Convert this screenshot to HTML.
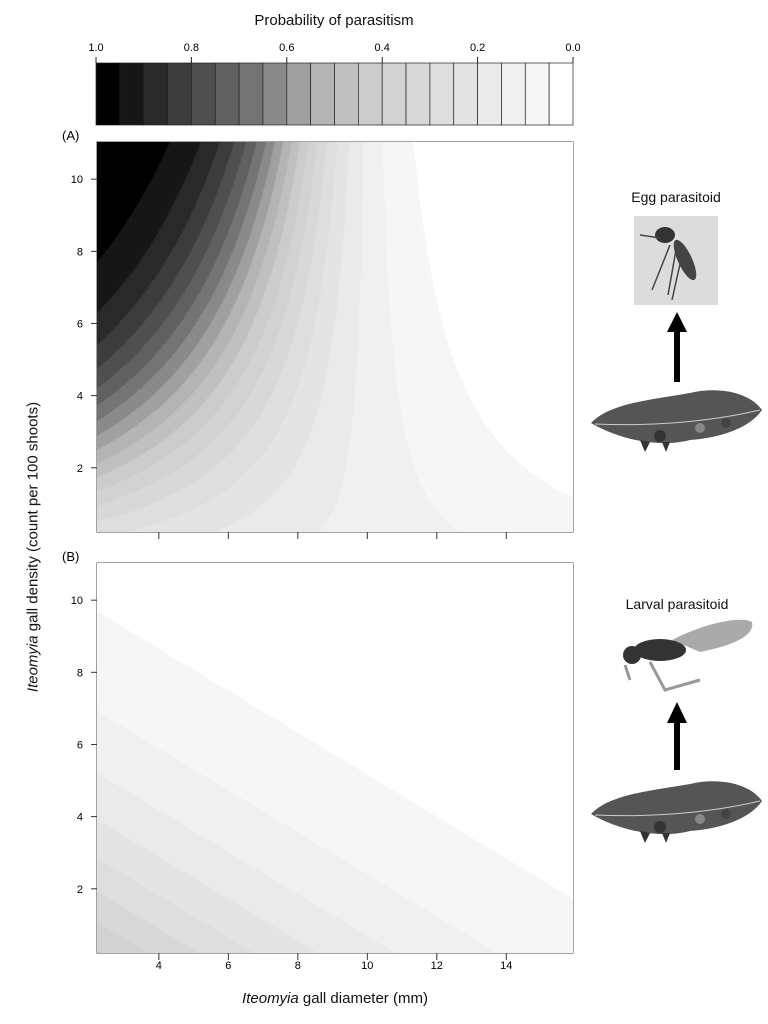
<!DOCTYPE html>
<html><head><meta charset="utf-8"><style>
body{margin:0;background:#fff;width:768px;height:1024px;position:relative;overflow:hidden;font-family:"Liberation Sans",sans-serif;color:#111}
.abs{position:absolute}
.tl{font-size:11px;position:absolute}
canvas{position:absolute}
</style></head><body>
<div class="abs" style="left:0;width:668px;text-align:center;top:12px;font-size:15px">Probability of parasitism</div>
<svg class="abs" style="left:0;top:0" width="768" height="1024" id="svg"></svg>
<canvas id="cA" width="476" height="390" style="left:97px;top:142px"></canvas>
<canvas id="cB" width="476" height="390" style="left:97px;top:563px"></canvas>
<div class="abs" style="left:33px;top:547px;transform:translate(-50%,-50%) rotate(-90deg);white-space:nowrap;font-size:15px"><i>Iteomyia</i> gall density (count per 100 shoots)</div>
<div class="abs" style="left:335px;top:990px;transform:translateX(-50%);white-space:nowrap;font-size:15px"><i>Iteomyia</i> gall diameter (mm)</div>
<div class="abs" style="left:676px;top:189px;transform:translateX(-50%);white-space:nowrap;font-size:14px">Egg parasitoid</div>
<div class="abs" style="left:677px;top:596px;transform:translateX(-50%);white-space:nowrap;font-size:14px">Larval parasitoid</div>
<script>
// Panel model coefficients (logit p = a + b*diameter + c*density + e*diameter*density)
const coefA = [-0.894, -0.10, 0.676, -0.067];
const coefB = [0.02, -0.157, -0.27, 0];
const xTicks = [4, 6, 8, 10, 12, 14];
const yTicks = [2, 4, 6, 8, 10];
const barTicks = [1.0, 0.8, 0.6, 0.4, 0.2, 0.0];
const greys = [0,22,41,60,79,96,116,138,160,180,192,204,210,216,222,228,234,240,246,255];
const X0=97,X1=573,DMIN=2.22,DMAX=15.92,GMIN=0.22,GMAX=11.03;
const xs=d=>X0+(d-DMIN)/(DMAX-DMIN)*(X1-X0);
const ysA=g=>532-(g-GMIN)/(GMAX-GMIN)*390;
const ysB=g=>953-(g-GMIN)/(GMAX-GMIN)*390;
function prob(c,d,g){const l=c[0]+c[1]*d+c[2]*g+c[3]*d*g;return 1/(1+Math.exp(-l));}
function draw(id,c){
  const cv=document.getElementById(id),ctx=cv.getContext('2d');
  const im=ctx.createImageData(476,390);
  for(let j=0;j<390;j++)for(let i=0;i<476;i++){
    const d=DMIN+(i+0.5)/476*(DMAX-DMIN),g=GMAX-(j+0.5)/390*(GMAX-GMIN);
    const p=prob(c,d,g);let k=Math.min(19,Math.floor((1-p)*20));
    const v=greys[k],o=(j*476+i)*4;im.data[o]=im.data[o+1]=im.data[o+2]=v;im.data[o+3]=255;}
  ctx.putImageData(im,0,0);
}
draw('cA',coefA);draw('cB',coefB);
const svg=document.getElementById('svg');const NS='http://www.w3.org/2000/svg';
function el(t,a,p){const e=document.createElementNS(NS,t);for(const k in a)e.setAttribute(k,a[k]);(p||svg).appendChild(e);return e;}
// colorbar
for(let k=0;k<20;k++){
  const r=el('rect',{x:96+k*477/20,y:63,width:477/20,height:62,fill:`rgb(${greys[k]},${greys[k]},${greys[k]})`,stroke:'#222','stroke-width':0.7});
  
  
}
barTicks.forEach(v=>{const x=96+(1-v)*477;
  el('line',{x1:x,x2:x,y1:57,y2:63,stroke:'#222'});
  const t=el('text',{x:x,y:51,'font-size':11,'text-anchor':'middle','font-family':'Liberation Sans'});t.textContent=v.toFixed(1);
  
  
});
// panel frames and axes
[['A',142,ysA],['B',563,ysB]].forEach(([n,top,ys])=>{
  const f=el('rect',{x:97,y:top,width:476,height:390,fill:'none',stroke:'#666','stroke-width':1.2});
  
  
  const lb=el('text',{x:62,y:top-2,'font-size':13,'font-family':'Liberation Sans'});lb.textContent='('+n+')';
  
  
  yTicks.forEach(v=>{const y=ys(v);el('line',{x1:91,x2:97,y1:y,y2:y,stroke:'#333'});
    const t=el('text',{x:83,y:y+4,'font-size':11,'text-anchor':'end','font-family':'Liberation Sans'});t.textContent=v;
    
    });
  xTicks.forEach(v=>{const x=xs(v);el('line',{x1:x,x2:x,y1:top+386,y2:top+397,stroke:'#333'});
    if(n==='B'){const t=el('text',{x:x,y:top+406,'font-size':11,'text-anchor':'middle','font-family':'Liberation Sans'});t.textContent=v;
      
      }});
});
// illustrations
function arrow(cx,top,hb,bot,name){const g=el('g',{});
  el('polygon',{points:`${cx},${top} ${cx-10},${hb} ${cx+10},${hb}`,fill:'#000'},g);
  el('rect',{x:cx-3,y:hb-1,width:6,height:bot-hb+1,fill:'#000'},g);}
function leaf(y,name){const g=el('g',{});
  el('path',{d:`M591 ${y+35} C610 ${y+15} 650 ${y+12} 690 ${y+5} C720 ${y-2} 750 ${y+5} 762 ${y+22} C750 ${y+40} 720 ${y+50} 690 ${y+52} C660 ${y+60} 620 ${y+52} 591 ${y+35}Z`,fill:'#555'},g);
  el('path',{d:`M595 ${y+36} C640 ${y+38} 700 ${y+36} 760 ${y+22}`,stroke:'#ccc','stroke-width':1,fill:'none'},g);
  el('circle',{cx:660,cy:y+48,r:6,fill:'#333'},g);el('circle',{cx:700,cy:y+40,r:5,fill:'#888'},g);el('circle',{cx:726,cy:y+35,r:5,fill:'#444'},g);
  el('path',{d:`M640 ${y+52} l5 12 l5 -10 Z M662 ${y+54} l4 10 l4 -10Z`,fill:'#333'},g);}
const eg=el('g',{});
el('rect',{x:634,y:216,width:84,height:89,fill:'#dcdcdc'},eg);
el('ellipse',{cx:665,cy:235,rx:10,ry:8,fill:'#333'},eg);
el('ellipse',{cx:685,cy:260,rx:7,ry:22,fill:'#444',transform:'rotate(-25 685 260)'},eg);
el('path',{d:'M670 245 L652 290 M676 250 L668 295 M682 255 L672 300 M660 238 L640 235',stroke:'#444','stroke-width':1.5,fill:'none'},eg);
arrow(677,312,332,382,'egg-arrow');leaf(388,'gall-leaf-a');
const lg=el('g',{});
el('path',{d:'M672 640 C700 625 740 615 752 622 C755 635 735 645 700 652 Z',fill:'#aaa'},lg);
el('ellipse',{cx:660,cy:650,rx:26,ry:11,fill:'#333'},lg);
el('ellipse',{cx:632,cy:655,rx:9,ry:9,fill:'#333'},lg);
el('path',{d:'M650 662 L665 690 L700 680 M625 665 L630 680',stroke:'#999','stroke-width':3,fill:'none'},lg);
arrow(677,702,723,770,'larval-arrow');leaf(779,'gall-leaf-b');
</script>
</body></html>
